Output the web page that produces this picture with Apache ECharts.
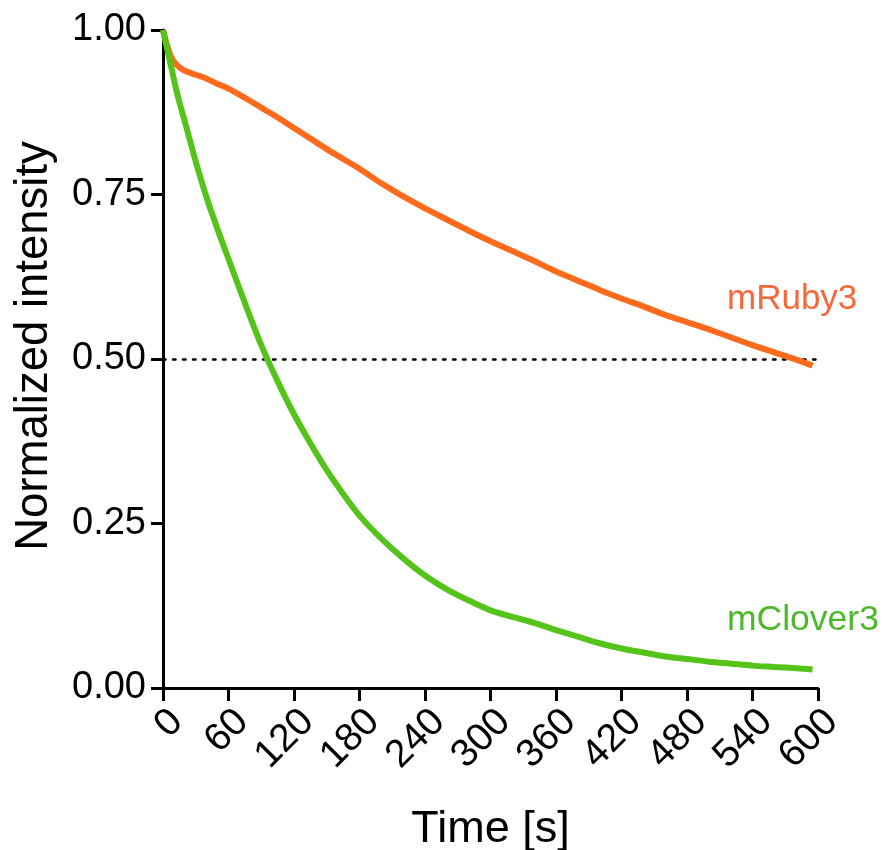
<!DOCTYPE html>
<html>
<head>
<meta charset="utf-8">
<script src="https://cdn.jsdelivr.net/npm/echarts@6/dist/echarts.min.js"></script>
<style>html,body{margin:0;padding:0;background:#fff;}#c{width:883px;height:850px;}</style>
</head>
<body>
<div id="c"></div>
<script>
var times = [0, 5, 8, 12, 16, 20, 30, 40, 50, 60, 75, 90, 105, 120, 135, 150, 165, 180, 200, 220, 240, 260, 280, 300, 320, 340, 360, 380, 400, 420, 440, 460, 480, 500, 520, 540, 560, 580, 595];
var mRuby3 = [1.0, 0.970, 0.957, 0.948, 0.942, 0.938, 0.932, 0.926, 0.918, 0.911, 0.897, 0.882, 0.867, 0.851, 0.835, 0.819, 0.804, 0.789, 0.767, 0.747, 0.729, 0.712, 0.695, 0.679, 0.664, 0.649, 0.633, 0.619, 0.605, 0.592, 0.580, 0.567, 0.556, 0.545, 0.533, 0.521, 0.510, 0.499, 0.490];
var mClover3 = [1.0, 0.962, 0.940, 0.910, 0.884, 0.861, 0.800, 0.745, 0.697, 0.652, 0.585, 0.521, 0.466, 0.416, 0.372, 0.331, 0.295, 0.262, 0.227, 0.197, 0.171, 0.150, 0.133, 0.118, 0.108, 0.099, 0.088, 0.078, 0.068, 0.060, 0.054, 0.048, 0.044, 0.040, 0.037, 0.034, 0.032, 0.030, 0.028];
var xTicks = [0, 60, 120, 180, 240, 300, 360, 420, 480, 540, 600];
var yTicks = [0, 0.25, 0.5, 0.75, 1.0];
var halfLine = 0.5;

function pairs(vals){ return times.map(function(t,i){ return [t, vals[i]]; }); }

var FONT = '"Liberation Sans", Arial, Helvetica, sans-serif';
var chart = echarts.init(document.getElementById('c'), null, {renderer:'canvas'});
chart.setOption({
  animation: false,
  backgroundColor: '#ffffff',
  grid: {left: 163, right: 65, top: 30, bottom: 162, containLabel: false, outerBoundsMode: 'none'},
  xAxis: {
    type: 'value', min: 0, max: 600, interval: 60,
    name: 'Time [s]', nameLocation: 'middle', nameGap: 119,
    nameTextStyle: {fontFamily: FONT, fontSize: 45, color: '#000'},
    axisLine: {show: true, onZero: false, lineStyle: {color: '#000', width: 3}},
    axisTick: {show: true, length: 13, lineStyle: {color: '#000', width: 3}},
    axisLabel: {rotate: 45, fontFamily: FONT, fontSize: 39, color: '#000', margin: 14, verticalAlign: 'top',
      formatter: function(v){ return xTicks.indexOf(v) >= 0 ? String(v) : ''; }},
    splitLine: {show: false}
  },
  yAxis: {
    type: 'value', min: 0, max: 1, interval: 0.25,
    name: 'Normalized intensity', nameLocation: 'middle', nameGap: 106, nameRotate: 90,
    nameTextStyle: {fontFamily: FONT, fontSize: 45.5, color: '#000', padding: [0, 0, 0, 26]},
    axisLine: {show: true, lineStyle: {color: '#000', width: 3}},
    axisTick: {show: true, length: 12, lineStyle: {color: '#000', width: 3}},
    axisLabel: {fontFamily: FONT, fontSize: 38, color: '#000', margin: 17,
      formatter: function(v){ return yTicks.indexOf(v) >= 0 ? v.toFixed(2) : ''; }},
    splitLine: {show: false}
  },
  series: [
    {
      name: 'mRuby3', type: 'line', data: pairs(mRuby3), smooth: 0.3, showSymbol: false,
      lineStyle: {color: '#FF6A1C', width: 6}, z: 3,
      markLine: {
        silent: true, symbol: ['none','none'], label: {show: false},
        lineStyle: {color: '#000', width: 2.5, type: [2.5, 7.5], cap: 'round'},
        data: [[{coord: [0, halfLine]}, {coord: [600, halfLine]}]],
        z: 1
      }
    },
    {
      name: 'mClover3', type: 'line', data: pairs(mClover3), smooth: 0.3, showSymbol: false,
      lineStyle: {color: '#55C41A', width: 6}, z: 4
    }
  ],
  graphic: [
    {type: 'text', left: 727, top: 282, style: {text: 'mRuby3', font: '35px ' + FONT, fill: '#F4693A'}},
    {type: 'text', left: 727, top: 602, style: {text: 'mClover3', font: '35.5px ' + FONT, fill: '#4DB82A'}}
  ]
});
</script>
</body>
</html>
